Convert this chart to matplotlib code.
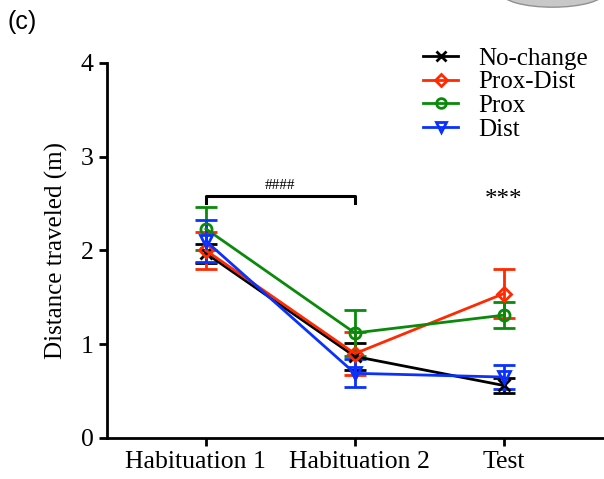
import matplotlib
matplotlib.use("Agg")
import matplotlib.pyplot as plt
import matplotlib.transforms as mtransforms
from matplotlib.patches import Ellipse
from matplotlib.lines import Line2D

# data
phases = ["Habituation 1", "Habituation 2", "Test"]
groups = ["No-change", "Prox-Dist", "Prox", "Dist"]
means = {
    "No-change": [1.97, 0.87, 0.56],
    "Prox-Dist": [2.00, 0.90, 1.54],
    "Prox": [2.23, 1.12, 1.31],
    "Dist": [2.10, 0.69, 0.65],
}
sems = {
    "No-change": [0.10, 0.14, 0.08],
    "Prox-Dist": [0.20, 0.23, 0.26],
    "Prox": [0.23, 0.25, 0.14],
    "Dist": [0.22, 0.15, 0.13],
}
colors = {"No-change": "black", "Prox-Dist": "#ff2a00", "Prox": "#0a8a0a", "Dist": "#0a32ff"}
markers = {"No-change": "x", "Prox-Dist": "D", "Prox": "o", "Dist": "v"}

plt.rcParams["font.family"] = ["Liberation Serif", "DejaVu Serif"]

fig = plt.figure(figsize=(6.04, 4.79), dpi=100)
ax = fig.add_axes([0.177, 0.0856, 0.821, 0.783])

x = range(len(phases))
handles = []
for g in groups:
    ms = 7 if markers[g] == "D" else 8
    ax.errorbar(x, means[g], yerr=sems[g], color=colors[g], marker=markers[g],
                markersize=ms, markerfacecolor="none",
                markeredgewidth=2, lw=2, capsize=8, capthick=2)
    handles.append(Line2D([], [], color=colors[g], marker=markers[g], lw=2,
                          markersize=ms - 1, markerfacecolor="none",
                          markeredgewidth=2, label=g))

# significance marks
ax.plot([0, 0, 1, 1], [2.51, 2.585, 2.585, 2.51], color="black", lw=2.2)
ax.text(0.5, 2.62, "####", ha="center", va="bottom", fontsize=11)
ax.text(2, 2.42, "***", ha="center", va="bottom", fontsize=18)

ax.set_xlim(-0.665, 2.665)
ax.set_ylim(0, 4)
ax.set_yticks([0, 1, 2, 3, 4])
ax.set_xticks(list(x))
ax.set_xticklabels(phases, fontsize=18.5)
ax.tick_params(labelsize=18.5, width=2, length=6)
# the first two labels sit a little off their ticks in the original
for lab, dx in zip(ax.get_xticklabels(), [-10, 5, 0]):
    lab.set_transform(lab.get_transform() +
                      mtransforms.ScaledTranslation(dx / 100, 0, fig.dpi_scale_trans))
ax.set_ylabel("Distance traveled (m)", fontsize=18, labelpad=9)
for s in ["top", "right"]:
    ax.spines[s].set_visible(False)
for s in ["left", "bottom"]:
    ax.spines[s].set_linewidth(2)

ax.legend(handles=handles, loc="upper right", bbox_to_anchor=(1.0, 1.082),
          frameon=False, fontsize=18, handlelength=1.4, labelspacing=0.05,
          handletextpad=0.8, borderaxespad=0.2)

fig.text(0.012, 0.955, "(c)", fontsize=18, family="Liberation Sans", va="center")

fig.patches.append(Ellipse((0.915, 1.015), 0.17, 0.06, transform=fig.transFigure,
                           facecolor="#c8c8c8", edgecolor="#909090", lw=1))

fig.savefig("out.png", dpi=100)
